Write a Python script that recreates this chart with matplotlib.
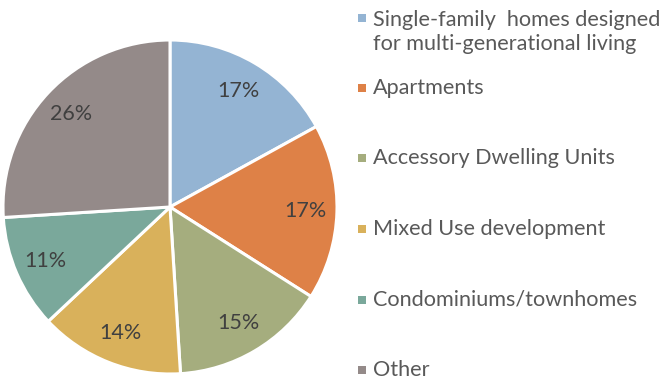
import matplotlib
matplotlib.use("Agg")
import matplotlib.pyplot as plt
from matplotlib.patches import Rectangle

categories = [
    "Single-family  homes designed\nfor multi-generational living",
    "Apartments",
    "Accessory Dwelling Units",
    "Mixed Use development",
    "Condominiums/townhomes",
    "Other",
]
shares = [17, 17, 15, 14, 11, 26]
colors = ["#94B4D3", "#DE8147", "#A5AD7E", "#D9B15B", "#7AA89B", "#948A89"]

plt.rcParams["font.family"] = ["Lato", "DejaVu Sans"]

W, H = 665, 385
fig = plt.figure(figsize=(W / 100, H / 100), dpi=100)
fig.patch.set_facecolor("white")

# pie axes, placed in pixel units
cx, cy, r = 170, 207, 167
ax = fig.add_axes([(cx - r) / W, (H - cy - r) / H, 2 * r / W, 2 * r / H])
ax.pie(
    shares,
    colors=colors,
    startangle=90,
    counterclock=False,
    autopct=lambda p: f"{p:.0f}%",
    pctdistance=0.81,
    wedgeprops=dict(edgecolor="white", linewidth=2.2),
    textprops=dict(color="#404040", fontsize=15.5),
)
ax.set_xlim(-1, 1)
ax.set_ylim(-1, 1)
ax.set_aspect("equal")
ax.axis("off")

# legend entries: marker row and text-block centre (pixels from top)
marker_y = [18, 88, 158, 229, 300, 370]
text_y = [32, 88, 158, 229, 300, 370]
for lab, col, my, ty in zip(categories, colors, marker_y, text_y):
    fig.patches.append(
        Rectangle((358 / W, (H - my - 4) / H), 8 / W, 8 / H,
                  transform=fig.transFigure, facecolor=col, edgecolor="none")
    )
    fig.text(373 / W, (H - ty) / H, lab, fontsize=15.6, color="#595959",
             ha="left", va="center", linespacing=1.21)

fig.savefig("out.png", dpi=100)
